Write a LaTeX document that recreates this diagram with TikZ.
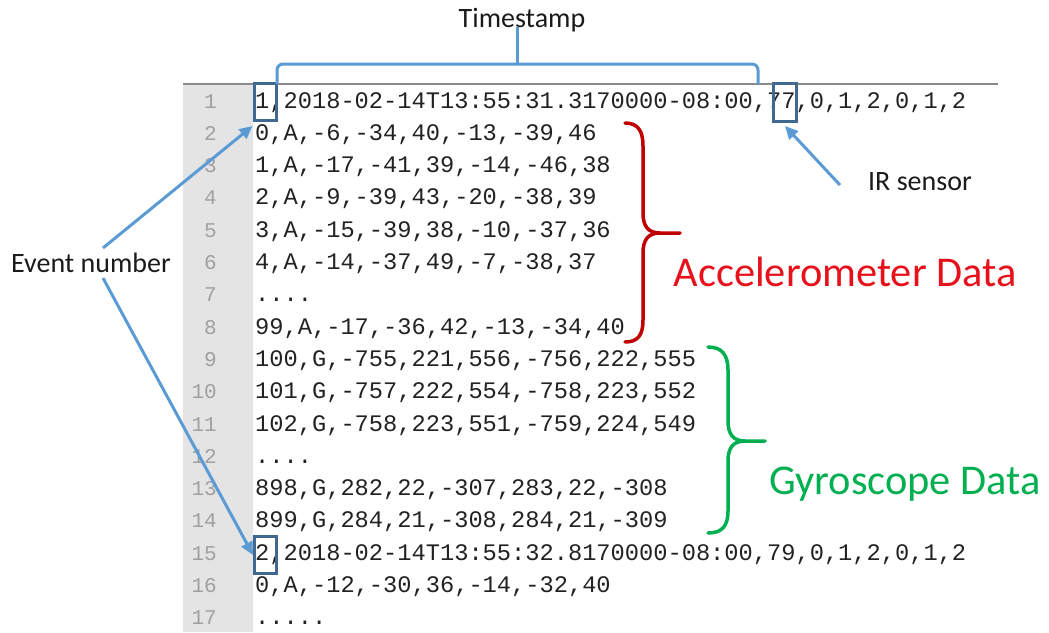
\documentclass[tikz,border=0pt]{standalone}
\usepackage{fontspec}
\setmainfont{Carlito}
\newfontfamily\codefont{Liberation Mono}
\usetikzlibrary{arrows.meta}
\definecolor{gutter}{HTML}{E4E4E4}
\definecolor{rulegray}{HTML}{8A8A8A}
\definecolor{codeink}{HTML}{222222}
\definecolor{numink}{HTML}{A0A0A0}
\definecolor{callout}{HTML}{5B9BD5}
\definecolor{boxblue}{HTML}{41698F}
\definecolor{accred}{HTML}{C00000}
\definecolor{acctext}{HTML}{E8101A}
\definecolor{gyrogreen}{HTML}{00B050}
\definecolor{noteink}{HTML}{1A1A1A}
\begin{document}
\begin{tikzpicture}[x=1pt,y=-1pt,
  code/.style={anchor=base west, inner sep=0pt, font=\codefont\fontsize{23.7}{26}\selectfont, text=codeink},
  lnum/.style={anchor=base east, inner sep=0pt, font=\codefont\fontsize{21}{24}\selectfont, text=numink},
  note/.style={inner sep=0pt, font=\fontsize{28}{32}\selectfont, text=noteink},
  bignote/.style={inner sep=0pt, font=\fontsize{42.4}{48}\selectfont},
  hlbox/.style={draw=boxblue, line width=3pt, inner sep=0pt},
  pointer/.style={draw=callout, line width=3pt, -{Triangle[length=13pt,width=12pt]}},
  bracket/.style={draw=callout, line width=3pt},
  brace/.style={line width=3.5pt, line cap=round}
]
\useasboundingbox (0,0) rectangle (1049,632);

% editor gutter and top rule
\fill[gutter] (183,84) rectangle (253,632);
\draw[rulegray, line width=2.5pt] (183,84) -- (998,84);

% line numbers
\node[lnum] (n1)  at (217,108)   {1};
\node[lnum] (n2)  at (217,140.3) {2};
\node[lnum] (n3)  at (217,172.6) {3};
\node[lnum] (n4)  at (217,204.9) {4};
\node[lnum] (n5)  at (217,237.2) {5};
\node[lnum] (n6)  at (217,269.5) {6};
\node[lnum] (n7)  at (217,301.8) {7};
\node[lnum] (n8)  at (217,334.1) {8};
\node[lnum] (n9)  at (217,366.4) {9};
\node[lnum] (n10) at (217,398.7) {10};
\node[lnum] (n11) at (217,431)   {11};
\node[lnum] (n12) at (217,463.3) {12};
\node[lnum] (n13) at (217,495.6) {13};
\node[lnum] (n14) at (217,527.9) {14};
\node[lnum] (n15) at (217,560.2) {15};
\node[lnum] (n16) at (217,592.5) {16};
\node[lnum] (n17) at (217,624.8) {17};

% file contents
\node[code] (l1)  at (255,108)   {1,2018-02-14T13:55:31.3170000-08:00,77,0,1,2,0,1,2};
\node[code] (l2)  at (255,140.3) {0,A,-6,-34,40,-13,-39,46};
\node[code] (l3)  at (255,172.6) {1,A,-17,-41,39,-14,-46,38};
\node[code] (l4)  at (255,204.9) {2,A,-9,-39,43,-20,-38,39};
\node[code] (l5)  at (255,237.2) {3,A,-15,-39,38,-10,-37,36};
\node[code] (l6)  at (255,269.5) {4,A,-14,-37,49,-7,-38,37};
\node[code] (l7)  at (255,301.8) {....};
\node[code] (l8)  at (255,334.1) {99,A,-17,-36,42,-13,-34,40};
\node[code] (l9)  at (255,366.4) {100,G,-755,221,556,-756,222,555};
\node[code] (l10) at (255,398.7) {101,G,-757,222,554,-758,223,552};
\node[code] (l11) at (255,431)   {102,G,-758,223,551,-759,224,549};
\node[code] (l12) at (255,463.3) {....};
\node[code] (l13) at (255,495.6) {898,G,282,22,-307,283,22,-308};
\node[code] (l14) at (255,527.9) {899,G,284,21,-308,284,21,-309};
\node[code] (l15) at (255,560.2) {2,2018-02-14T13:55:32.8170000-08:00,79,0,1,2,0,1,2};
\node[code] (l16) at (255,592.5) {0,A,-12,-30,36,-14,-32,40};
\node[code] (l17) at (255,624.8) {.....};

% highlight boxes
\node[hlbox, minimum width=22pt, minimum height=37pt] (b1) at (265,102) {};
\node[hlbox, minimum width=23pt, minimum height=38pt] (b2) at (785,102.5) {};
\node[hlbox, minimum width=22pt, minimum height=37pt] (b3) at (265.5,555) {};

% annotations
\node[note] (ts) at (522,20) {Timestamp};
\node[note] (ir) at (920,182) {IR sensor};
\node[note] (ev) at (91,263) {Event number};
\node[bignote, text=acctext] (acc) at (845,272) {Accelerometer Data};
\node[bignote, text=gyrogreen] (gyro) at (905,484) {Gyroscope Data};

% timestamp bracket
\draw[bracket, rounded corners=6pt] (277,84) |- (758,64) -- (758,84);
\coordinate (tstick) at (517,64);
\draw[bracket] (tstick) -- (tstick |- ts.base);

% pointers
\draw[pointer] ([xshift=12pt,yshift=5pt]ev.north) -- ([yshift=-4pt]b1.south west);
\draw[pointer] ([xshift=12pt,yshift=-5pt]ev.south) -- (b3.west);
\draw[pointer] ([xshift=-28pt,yshift=-3pt]ir.west) -- ([yshift=-3pt]b2.south);

% braces
\draw[brace, accred] (625,123) .. controls (638,123) and (643,131) .. (643,146) -- (643,213)
  .. controls (643,226) and (648,233) .. (660,233) -- (680,233)
  (660,233) .. controls (648,233) and (643,240) .. (643,253) -- (643,320)
  .. controls (643,335) and (638,342) .. (625,342);
\draw[brace, gyrogreen] (708,347) .. controls (722,347) and (728,355) .. (728,370) -- (728,421)
  .. controls (728,434) and (733,441) .. (745,441) -- (765,441)
  (745,441) .. controls (733,441) and (728,448) .. (728,461) -- (728,511)
  .. controls (728,526) and (722,533) .. (708,533);
\end{tikzpicture}
\end{document}
